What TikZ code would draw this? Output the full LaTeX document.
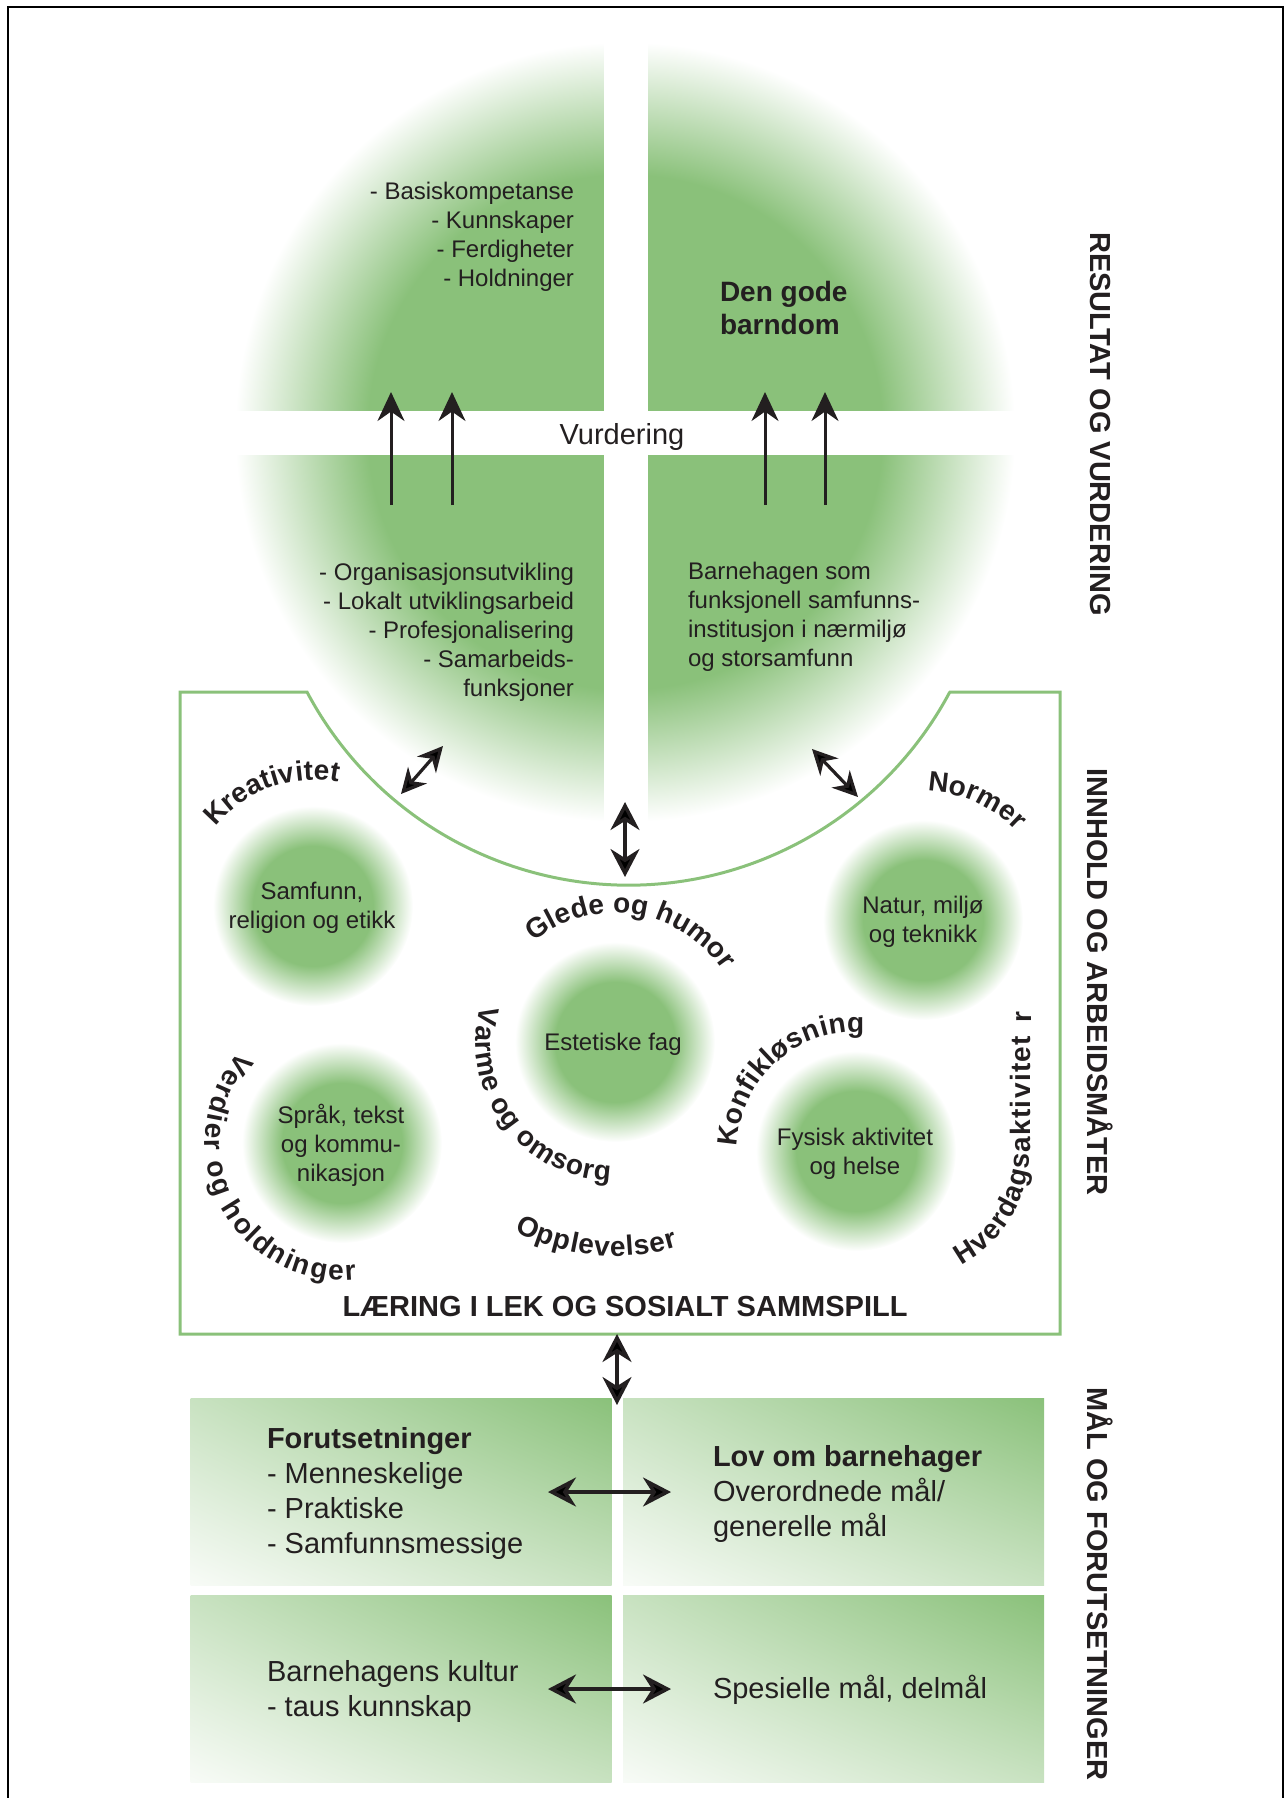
\documentclass[tikz,border=0pt]{standalone}
\usepackage{fontspec}
\setmainfont{Liberation Sans}
\usetikzlibrary{arrows.meta,decorations.text,shadings}
\definecolor{gr}{RGB}{138,193,122}
\definecolor{ink}{HTML}{231F20}
\pgfdeclareradialshading{gfade}{\pgfpoint{0bp}{0bp}}{color(0bp)=(gr); color(15bp)=(gr); color(25bp)=(white); color(50bp)=(white)}
\pgfdeclareradialshading{bigfade}{\pgfpoint{0bp}{0bp}}{color(0bp)=(gr); color(16.5bp)=(gr); color(25bp)=(white); color(50bp)=(white)}
\newcommand\myfs[2]{\fontsize{#1}{#2}\selectfont}
\newcommand\curvef{\fontsize{28}{34}\selectfont\bfseries}
\begin{document}
\begin{tikzpicture}[x=1pt,y=1pt,
  every node/.style={text=ink,inner sep=0pt,outer sep=0pt},
  bodytxt/.style={font=\myfs{24}{29}},
  bodyb/.style={font=\myfs{28}{33}\bfseries},
  boxt/.style={font=\myfs{29}{35}},
  sidelab/.style={font=\myfs{29}{34}\bfseries,rotate=-90},
  blob/.style={circle,shade,shading=gfade,minimum size=200pt},
  boxsh/.style={shade,upper left=gr!47,upper right=gr,lower left=gr!6,lower right=gr!47,minimum width=421pt,minimum height=187pt},
  curv/.style={decorate,decoration={text along path,text color=ink,text align=fit to path,text={|\curvef|#1}}},
  dbl/.style={draw=ink,line width=3.5pt,arrows={Stealth[length=28pt,width=29pt]-Stealth[length=28pt,width=29pt]}},
  dbls/.style={draw=ink,line width=3.2pt,arrows={Stealth[length=25pt,width=25pt]-Stealth[length=25pt,width=25pt]}},
  uparr/.style={draw=ink,line width=3pt,arrows={-Stealth[length=29pt,width=27pt]}},
]
\useasboundingbox (0,0) rectangle (1285,-1798);
\draw[line width=2pt,black] (8,-1798) -- (8,-7) -- (1283,-7) -- (1283,-1798);

% big circle
\node[circle,shade,shading=bigfade,minimum size=780pt] (big) at (625,-432) {};
\fill[white] (604,-30) rectangle (648,-840);
\fill[white] (220,-411) rectangle (1030,-455);

\coordinate (u1a) at (391,-505); \coordinate (u1b) at (391,-392);
\coordinate (u2a) at (452,-505); \coordinate (u2b) at (452,-392);
\coordinate (u3a) at (765,-505); \coordinate (u3b) at (765,-392);
\coordinate (u4a) at (825,-505); \coordinate (u4b) at (825,-392);
\draw[uparr] (u1a) -- (u1b);
\draw[uparr] (u2a) -- (u2b);
\draw[uparr] (u3a) -- (u3b);
\draw[uparr] (u4a) -- (u4b);

\node[bodytxt,align=right,anchor=east] (tl) at (574,-237) {- Basiskompetanse\\- Kunnskaper\\- Ferdigheter\\- Holdninger};
\node[bodyb,align=left,anchor=west] (tr) at (720,-308) {Den gode\\barndom};
\node[font=\myfs{29}{34}] (vur) at (622,-437) {Vurdering};
\node[bodytxt,align=right,anchor=east] (bl) at (574,-632) {- Organisasjonsutvikling\\- Lokalt utviklingsarbeid\\- Profesjonalisering\\- Samarbeids-\\funksjoner};
\node[bodytxt,align=left,anchor=west] (br) at (688,-617) {Barnehagen som\\funksjonell samfunns-\\institusjon i nærmiljø\\og storsamfunn};

% middle box outline
\draw[gr,line width=3pt] (949,-692) -- (1060,-692) -- (1060,-1334) -- (180,-1334) -- (180,-692) -- (307,-692) arc[start angle=208,end angle=332,radius=364];

% small circles
\node[blob] (c1) at (313,-906) {};
\node[blob] (c2) at (923,-920) {};
\node[blob] (c3) at (615,-1042) {};
\node[blob] (c4) at (342,-1143) {};
\node[blob] (c5) at (856,-1151) {};

\node[bodytxt,align=center] (t1) at (312,-908) {Samfunn,\\religion og etikk};
\node[bodytxt,align=center] (t2) at (923,-922) {Natur, miljø\\og teknikk};
\node[bodytxt] (t3) at (613,-1044) {Estetiske fag};
\node[bodytxt,align=center] (t4) at (341,-1145) {Språk, tekst\\og kommu-\\nikasjon};
\node[bodytxt,align=center] (t5) at (855,-1154) {Fysisk aktivitet\\og helse};

% curved labels
\path[curv=Kreativitet,shift={(314,-907)}] (141:127) arc[start angle=141,end angle=79,radius=127];
\path[curv=Normer,shift={(923,-920)}] (88:129) arc[start angle=88,end angle=45,radius=129];
\path[curv={Glede og humor},shift={(615,-1042)}] (129:129) arc[start angle=129,end angle=34,radius=129];
\path[curv={Varme og omsorg},shift={(615,-1042)}] (165:139) arc[start angle=165,end angle=268,radius=139];
\path[curv=Opplevelser,shift={(615,-1042)}] (242:214) arc[start angle=242,end angle=287,radius=214];
\path[curv=Konfikløsning,shift={(856,-1151)}] (178:119) arc[start angle=178,end angle=86,radius=119];
\path[curv={Verdier og holdninger},shift={(342,-1143)}] (138:137) arc[start angle=138,end angle=276,radius=137];
\path[curv=Hverdagsaktivitet,shift={(900,-1150)}] (-62:130) arc[start angle=-62,end angle=0,radius=130] -- (130,114);
\node[font=\curvef,rotate=90] (rr) at (1024,-1017) {r};

\node[font=\myfs{29}{34}\bfseries] (lek) at (625,-1307) {LÆRING I LEK OG SOSIALT SAMMSPILL};

% arrows in box
\coordinate (d1a) at (401,-794); \coordinate (d1b) at (443,-746);
\coordinate (d2a) at (812,-749); \coordinate (d2b) at (858,-797);
\coordinate (v2a) at (625,-802); \coordinate (v2b) at (625,-877);
\draw[dbls] (d1a) -- (d1b);
\draw[dbls] (d2a) -- (d2b);
\draw[dbl] (v2a) -- (v2b);

% bottom boxes
\node[boxsh] (q1) at (401,-1491.5) {};
\node[boxsh] (q2) at (833.5,-1491.5) {};
\node[boxsh] (q3) at (401,-1688.5) {};
\node[boxsh] (q4) at (833.5,-1688.5) {};

\node[boxt,align=left,anchor=west] (f1) at (267,-1493) {\textbf{Forutsetninger}\\- Menneskelige\\- Praktiske\\- Samfunnsmessige};
\node[boxt,align=left,anchor=west] (f2) at (713,-1494) {\textbf{Lov om barnehager}\\Overordnede mål/\\generelle mål};
\node[boxt,align=left,anchor=west] (f3) at (267,-1691) {Barnehagens kultur\\- taus kunnskap};
\node[boxt,anchor=west] (f4) at (713,-1690) {Spesielle mål, delmål};

\coordinate (v1a) at (617,-1334); \coordinate (v1b) at (617,-1405);
\coordinate (h1a) at (548,-1492); \coordinate (h1b) at (671,-1492);
\coordinate (h2a) at (548,-1689); \coordinate (h2b) at (671,-1689);
\draw[dbl] (v1a) -- (v1b);
\draw[dbl] (h1a) -- (h1b);
\draw[dbl] (h2a) -- (h2b);

% side labels
\node[sidelab] (s1) at (1100,-424) {RESULTAT OG VURDERING};
\node[sidelab] (s2) at (1100,-982) {INNHOLD OG ARBEIDSMÅTER};
\node[sidelab] (s3) at (1100,-1584) {MÅL OG FORUTSETNINGER};
\end{tikzpicture}
\end{document}
